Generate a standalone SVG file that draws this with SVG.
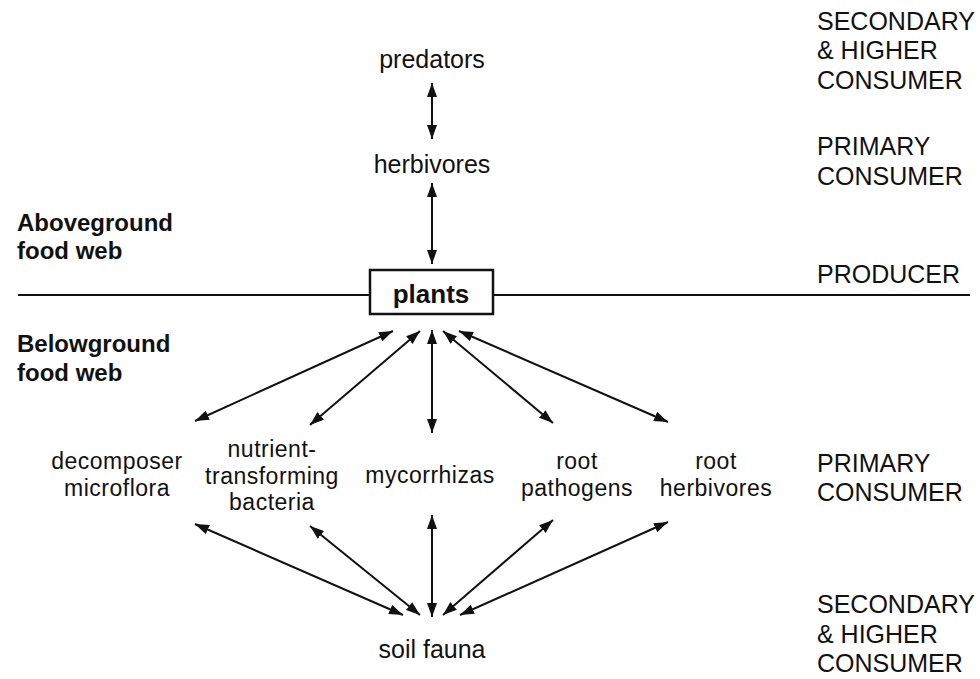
<svg xmlns="http://www.w3.org/2000/svg" width="980" height="679" viewBox="0 0 980 679">
<defs>
<marker id="ah" viewBox="0 0 14 10" refX="14" refY="5" markerWidth="14" markerHeight="10" markerUnits="userSpaceOnUse" orient="auto-start-reverse">
<path d="M0,0 L14,5 L0,10 z" fill="#111"/>
</marker>
<style>
text{font-family:"Liberation Sans",Arial,sans-serif;fill:#111}
.n{font-size:25px;text-anchor:middle}
.m{font-size:23px;text-anchor:middle;letter-spacing:0.5px}
.b{font-size:24px;font-weight:bold}
.r{font-size:25px}
.c{stroke:#111;stroke-width:2;fill:none;marker-start:url(#ah);marker-end:url(#ah)}
</style>
</defs>
<rect width="980" height="679" fill="#fff"/>
<line x1="18" y1="295" x2="970" y2="295" stroke="#111" stroke-width="2"/>
<g id="connectors">
<line class="c" x1="432" y1="83" x2="432" y2="139"/>
<line class="c" x1="432" y1="183" x2="432" y2="264"/>
<line class="c" x1="393" y1="331" x2="195" y2="421"/>
<line class="c" x1="420" y1="331" x2="310" y2="425"/>
<line class="c" x1="432" y1="330" x2="432" y2="433"/>
<line class="c" x1="443" y1="331" x2="553" y2="423"/>
<line class="c" x1="459" y1="331" x2="668" y2="422"/>
<line class="c" x1="195" y1="524" x2="403" y2="615"/>
<line class="c" x1="310" y1="526" x2="420" y2="615"/>
<line class="c" x1="432" y1="515" x2="432" y2="617"/>
<line class="c" x1="553" y1="520" x2="443" y2="615"/>
<line class="c" x1="668" y1="522" x2="460" y2="615"/>
</g>
<g id="predators"><text class="n" x="432" y="68">predators</text></g>
<g id="herbivores"><text class="n" x="432" y="173">herbivores</text></g>
<g id="plants">
<rect x="370" y="270" width="123" height="44" fill="#fff" stroke="#111" stroke-width="2.5"/>
<text x="431" y="303" style="font-size:26px;font-weight:bold;text-anchor:middle">plants</text>
</g>
<g id="decomposer"><text class="m" x="117" y="469">decomposer</text><text class="m" x="117" y="495.5">microflora</text></g>
<g id="bacteria"><text class="m" x="272" y="457">nutrient-</text><text class="m" x="272" y="483.5">transforming</text><text class="m" x="272" y="510">bacteria</text></g>
<g id="mycorrhizas"><text class="m" x="430" y="483">mycorrhizas</text></g>
<g id="pathogens"><text class="m" x="577" y="469">root</text><text class="m" x="577" y="495.5">pathogens</text></g>
<g id="rootherb"><text class="m" x="716" y="469">root</text><text class="m" x="716" y="495.5">herbivores</text></g>
<g id="soilfauna"><text class="n" x="432" y="658">soil fauna</text></g>
<g id="left-labels">
<text class="b" x="17" y="231">Aboveground</text>
<text class="b" x="17" y="259">food web</text>
<text class="b" x="17" y="352">Belowground</text>
<text class="b" x="17" y="381">food web</text>
</g>
<g id="right-labels">
<text class="r" x="817" y="30">SECONDARY</text>
<text class="r" x="817" y="59">&amp; HIGHER</text>
<text class="r" x="817" y="89">CONSUMER</text>
<text class="r" x="817" y="155">PRIMARY</text>
<text class="r" x="817" y="185">CONSUMER</text>
<text class="r" x="817" y="283">PRODUCER</text>
<text class="r" x="817" y="472">PRIMARY</text>
<text class="r" x="817" y="501">CONSUMER</text>
<text class="r" x="817" y="613">SECONDARY</text>
<text class="r" x="817" y="643">&amp; HIGHER</text>
<text class="r" x="817" y="672">CONSUMER</text>
</g>
</svg>
